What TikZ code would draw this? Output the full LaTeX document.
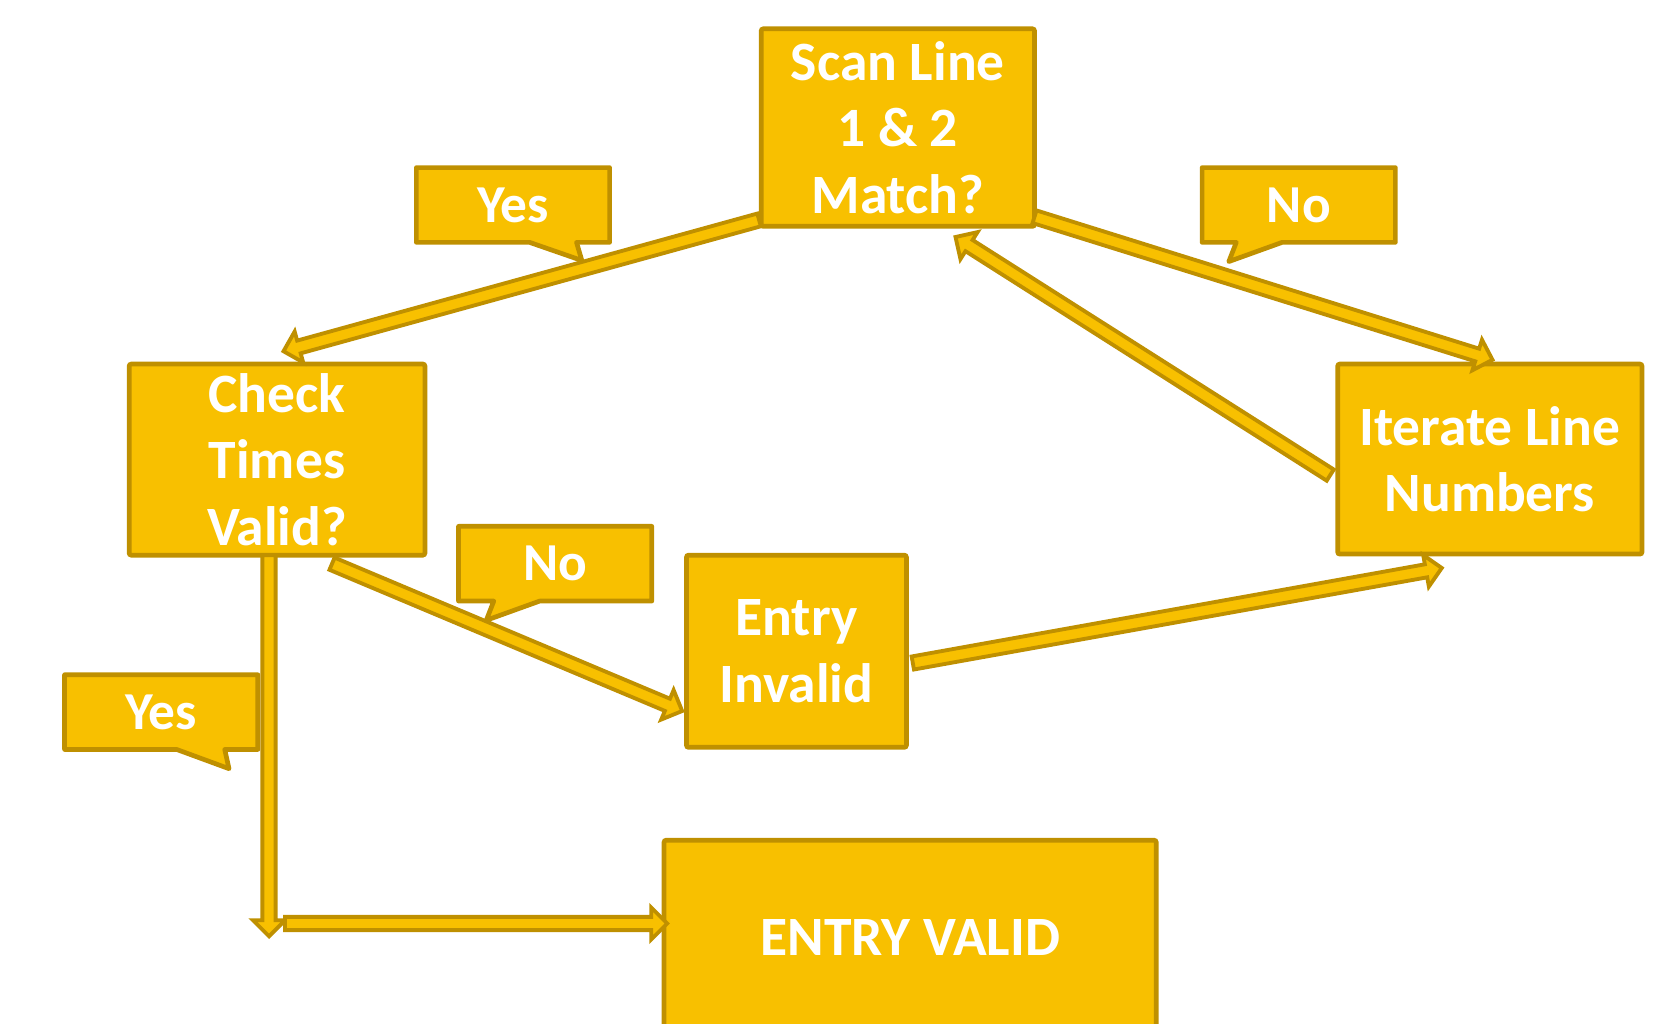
\documentclass[tikz,border=0pt]{standalone}
\usepackage{fontspec}
\setmainfont{Carlito}
\usetikzlibrary{calc,backgrounds}

\definecolor{goldfill}{HTML}{F8C000}
\definecolor{goldline}{HTML}{BF9000}

% block arrow sizes
\newcommand{\arrshaft}{3.1pt}
\newcommand{\arrhead}{7.5pt}
\newcommand{\arrheadlen}{7.5pt}

% outlined block arrow from #1 to #2
\newcommand{\flowarrow}[2]{%
  \draw[flowline] let \p1 = ($(#2)-(#1)$),
      \n1 = {atan2(\y1,\x1)}, \n2 = {veclen(\x1,\y1)} in
    {[shift={(#1)}, rotate=\n1]
      (0pt,-\arrshaft) -- ({\n2-\arrheadlen},-\arrshaft) -- ({\n2-\arrheadlen},-\arrhead)
      -- (\n2,0pt) -- ({\n2-\arrheadlen},\arrhead) -- ({\n2-\arrheadlen},\arrshaft)
      -- (0pt,\arrshaft) -- cycle};}

\tikzset{
  stepbox/.style={draw=goldline, fill=goldfill, line width=2.2pt, rounded corners=1pt,
    inner sep=0pt, outer sep=0pt, align=center, text=white,
    font=\fontsize{26}{31}\selectfont\bfseries},
  tag/.style={inner sep=0pt, outer sep=0pt, minimum width=90.5pt, minimum height=35pt,
    text=white, font=\fontsize{25}{30}\selectfont\bfseries},
  tagline/.style={draw=goldline, fill=goldfill, line width=2.2pt, line join=round},
  flowline/.style={draw=goldline, fill=goldfill, line width=1.8pt, line join=miter},
}

\begin{document}
\begin{tikzpicture}[x=0.5pt, y=-0.5pt]
\useasboundingbox (0,0) rectangle (1568,959);
\clip (0,0) rectangle (1568,959);

\node[stepbox, minimum width=128pt, minimum height=92.5pt] (scan) at (841,119.5) {Scan Line\\1 \& 2\\Match?};
\node[stepbox, minimum width=138.5pt, minimum height=89.5pt] (check) at (259.5,430.5) {Check\\Times\\Valid?};
\node[stepbox, minimum width=142.5pt, minimum height=89pt] (iter) at (1395.5,430) {Iterate Line\\Numbers};
\node[stepbox, minimum width=103pt, minimum height=90pt] (invalid) at (746,610) {Entry\\Invalid};
\node[stepbox, minimum width=230.5pt, minimum height=91.5pt] (valid) at (852.5,878.5) {ENTRY VALID};

% speech tags
\node[tag] (yes1) at (480.5,192) {Yes};
\node[tag] (no1) at (1216.5,192) {No};
\node[tag] (no2) at (520,528) {No};
\node[tag] (yes2) at (151,667) {Yes};

\begin{scope}[on background layer]
  \draw[tagline] (yes1.north west) -- (yes1.north east) -- (yes1.south east) -- ++(-31,0) -- ++(5,17) -- ++(-49,-17) -- (yes1.south west) -- cycle;
  \draw[tagline] (no1.north west) -- (no1.north east) -- (no1.south east) -- ++(-106,0) -- ++(-50,18) -- ++(7,-18) -- (no1.south west) -- cycle;
  \draw[tagline] (no2.north west) -- (no2.north east) -- (no2.south east) -- ++(-105,0) -- ++(-50,18) -- ++(7,-18) -- (no2.south west) -- cycle;
  \draw[tagline] (yes2.north west) -- (yes2.north east) -- (yes2.south east) -- ++(-31,0) -- ++(4,18) -- ++(-49,-18) -- (yes2.south west) -- cycle;
\end{scope}

% arrow ends
\coordinate (scanyes) at ($(scan.south west)+(-2,-6)$);
\coordinate (checktop) at ($(check.north)+(6,-12)$);
\coordinate (scanno) at ($(scan.south east)+(0,-9)$);
\coordinate (itertop) at ($(iter.north west)+(145,-4)$);
\coordinate (iterback) at ($(iter.west)+(-7,15)$);
\coordinate (scanbottom) at ($(scan.south)+(54,10)$);
\coordinate (checkno) at ($(check.south)+(51.5,8)$);
\coordinate (invalidin) at ($(invalid.west)+(-4,56)$);
\coordinate (invalidout) at ($(invalid.east)+(6,11)$);
\coordinate (iterbottom) at ($(iter.south)+(-45,13)$);
\coordinate (checkyes) at ($(check.south west)+(131,0)$);
\coordinate (turn) at ($(check.south west)+(131,357)$);
\coordinate (turnout) at ($(turn)+(15,-12)$);
\coordinate (validin) at ($(valid.west)+(3,-13.5)$);

\flowarrow{scanyes}{checktop}
\flowarrow{scanno}{itertop}
\flowarrow{iterback}{scanbottom}
\flowarrow{checkno}{invalidin}
\flowarrow{invalidout}{iterbottom}
\flowarrow{checkyes}{turn}
\flowarrow{turnout}{validin}

\end{tikzpicture}
\end{document}
